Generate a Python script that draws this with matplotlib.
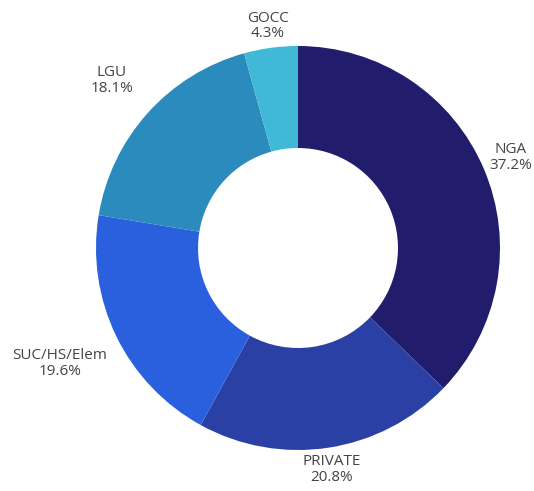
import matplotlib
matplotlib.use("Agg")
import matplotlib.pyplot as plt
import numpy as np

labels = ["NGA", "PRIVATE", "SUC/HS/Elem", "LGU", "GOCC"]
shares = [37.2, 20.8, 19.6, 18.1, 4.3]
colors = ["#211c6c", "#2a40a4", "#2a5fde", "#2c8bbd", "#40b9d6"]

plt.rcParams['font.family'] = ['Open Sans', 'DejaVu Sans']

fig = plt.figure(figsize=(5.34, 4.91), dpi=100)
ax = fig.add_axes([0, 0, 1, 1])

wedges, _ = ax.pie(shares, colors=colors, startangle=90, counterclock=False,
                   radius=1.0, wedgeprops=dict(width=0.505, edgecolor='none'))

# label distance from centre, per slice
dist = [1.145, 1.11, 1.31, 1.24, 1.11]
total = sum(shares)
cum = 0
for lab, val, d in zip(labels, shares, dist):
    mid = 90 - (cum + val / 2) / total * 360
    cum += val
    a = np.deg2rad(mid)
    ax.text(d * np.cos(a), d * np.sin(a), f"{lab}\n{val:.1f}%",
            ha='center', va='center', fontsize=11, color='#444444',
            linespacing=1.05)

ax.set_aspect('equal')
ax.set_xlim(-298 / 202, (534 - 298) / 202)
ax.set_ylim(-(491 - 248) / 202, 248 / 202)
ax.axis('off')

fig.savefig("out.png", dpi=100)
